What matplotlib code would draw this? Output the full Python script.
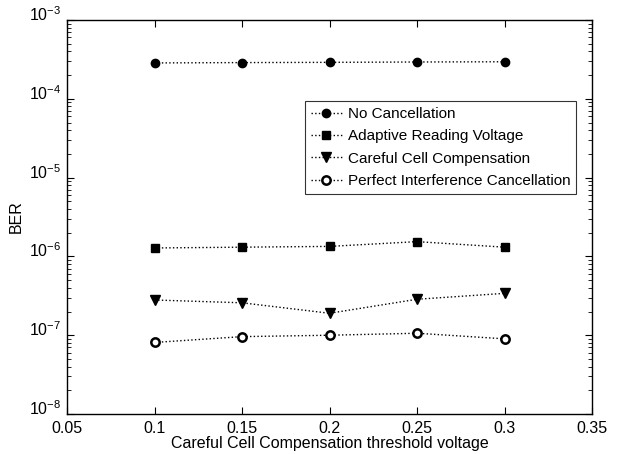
import numpy as np
import matplotlib
matplotlib.use('Agg')
import matplotlib.pyplot as plt
from matplotlib.transforms import ScaledTranslation

plt.rcParams['font.family'] = ['Liberation Sans', 'DejaVu Sans']

# threshold voltages
thresh = [0.1, 0.15, 0.2, 0.25, 0.3]

# BER
ber_none     = [2.85e-4, 2.88e-4, 2.90e-4, 2.93e-4, 2.95e-4]
ber_adaptive = [1.28e-6, 1.31e-6, 1.34e-6, 1.54e-6, 1.31e-6]
ber_careful  = [2.80e-7, 2.58e-7, 1.90e-7, 2.86e-7, 3.40e-7]
ber_perfect  = [8.1e-8, 9.6e-8, 1.0e-7, 1.06e-7, 9.0e-8]

labels = ['No Cancellation', 'Adaptive Reading Voltage',
          'Careful Cell Compensation', 'Perfect Interference Cancellation']

fig = plt.figure(figsize=(6.17, 4.54), dpi=100)
ax = fig.add_axes([0.1086, 0.088, 0.851, 0.868])

ax.semilogy(thresh, ber_none, ':', color='black', marker='o', ms=6,
            mfc='black', mec='black', lw=1, label=labels[0])
ax.semilogy(thresh, ber_adaptive, ':', color='black', marker='s', ms=6,
            mfc='black', mec='black', lw=1, label=labels[1])
ax.semilogy(thresh, ber_careful, ':', color='black', marker='v', ms=7,
            mfc='black', mec='black', lw=1, label=labels[2])
ax.semilogy(thresh, ber_perfect, ':', color='black', marker='o', ms=6,
            mfc='white', mec='black', mew=1.8, lw=1, label=labels[3])

ax.set_xlim(0.05, 0.35)
ax.set_ylim(1e-8, 1e-3)
ax.set_xticks([0.05, 0.1, 0.15, 0.2, 0.25, 0.3, 0.35])
ax.set_xticklabels(['0.05', '0.1', '0.15', '0.2', '0.25', '0.3', '0.35'])

ax.tick_params(which='both', direction='in', top=True, right=True,
               labelsize=11.5)
ax.tick_params(axis='x', pad=5)
ax.tick_params(axis='y', pad=4)
ax.tick_params(which='major', length=5)
ax.tick_params(which='minor', length=3)
# MATLAB puts the exponent labels a bit above the tick
shift = ScaledTranslation(0, 5 / 72, fig.dpi_scale_trans)
for lab in ax.get_yticklabels():
    lab.set_transform(lab.get_transform() + shift)
for s in ax.spines.values():
    s.set_linewidth(1.0)

ax.set_xlabel('Careful Cell Compensation threshold voltage', fontsize=11.5,
              labelpad=0)
ax.set_ylabel('BER', fontsize=11.5, labelpad=4)

leg = ax.legend(loc='upper left', bbox_to_anchor=(0.453, 0.795),
                fontsize=11, frameon=True, fancybox=False, borderpad=0.4,
                labelspacing=0.55, handlelength=2.0, handletextpad=0.4,
                borderaxespad=0)
leg.get_frame().set_edgecolor('black')
leg.get_frame().set_linewidth(0.8)

fig.savefig('out.png', dpi=100)
